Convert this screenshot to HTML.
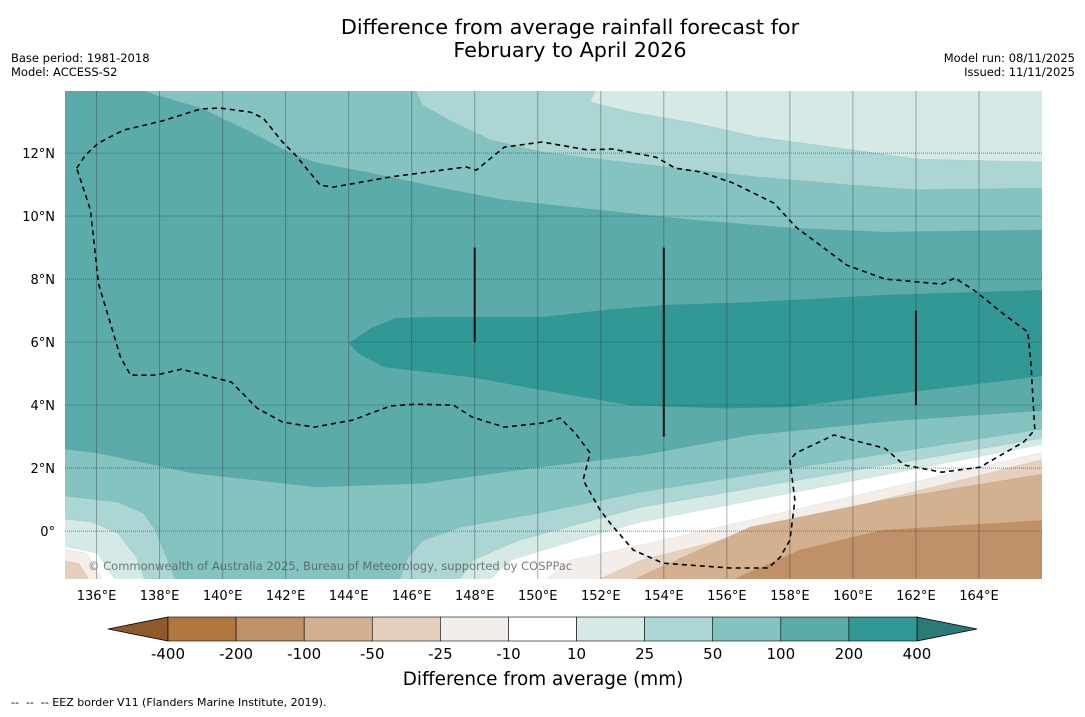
<!DOCTYPE html>
<html><head><meta charset="utf-8"><style>
html,body{margin:0;padding:0;background:#fff;}
body{width:1085px;height:713px;overflow:hidden;font-family:"DejaVu Sans","Liberation Sans",sans-serif;}
svg text{font-family:"DejaVu Sans","Liberation Sans",sans-serif;white-space:pre;}
</style></head><body>
<svg id="chart" width="1085" height="713" viewBox="0 0 1085 713" xmlns="http://www.w3.org/2000/svg">
<defs><clipPath id="mapclip"><rect x="65" y="91" width="977" height="488"/></clipPath></defs>
<text x="570" y="34" font-size="20.8" text-anchor="middle" fill="#000">Difference from average rainfall forecast for</text>
<text x="570" y="57" font-size="20.8" text-anchor="middle" fill="#000">February to April 2026</text>
<text x="11" y="62" font-size="11.5">Base period: 1981-2018</text>
<text x="11" y="76" font-size="11.5">Model: ACCESS-S2</text>
<text x="1075" y="62" font-size="11.5" text-anchor="end">Model run: 08/11/2025</text>
<text x="1075" y="76" font-size="11.5" text-anchor="end">Issued: 11/11/2025</text>
<g id="map" clip-path="url(#mapclip)"></g>
<g id="axes"></g>
<g id="cbar"></g>
<text x="543" y="685" font-size="18.4" text-anchor="middle">Difference from average (mm)</text>
<text x="11" y="706" font-size="11" xml:space="preserve">--  --  -- EEZ border V11 (Flanders Marine Institute, 2019).</text>
</svg>
<script>
// axis extents
const lonMin = 135, lonMax = 166, latMin = -1.52, latMax = 13.97;
const lonTicks = [136,138,140,142,144,146,148,150,152,154,156,158,160,162,164];
const latTicks = [0,2,4,6,8,10,12];
const latTickLabels = ["0°","2°N","4°N","6°N","8°N","10°N","12°N"];
// colour levels
const levelLabels = ["-400","-200","-100","-50","-25","-10","10","25","50","100","200","400"];
const binColors = ["#b07840","#c09068","#d3b08f","#e4d0bd","#f3eeea","#ffffff","#d5e9e7","#acd6d4","#84c3c0","#5aabaa","#319896"];
const underColor = "#8f5a2a", overColor = "#2a7a78";
// contour regions [lon,lat]
const top10 = [[151.92,14.2],[151.66,13.62],[152.96,13.30],[154.99,12.95],[156.99,12.51],[160.0,12.10],[162.03,11.81],[166.2,11.71],[166.2,14.2]];
const top25 = [[146.02,14.2],[146.34,13.52],[147.32,12.98],[148.52,12.41],[150.14,12.03],[152.96,11.68],[154.99,11.46],[156.99,11.24],[160.0,10.98],[162.03,10.83],[166.2,10.89],[166.2,14.2]];
const top50 = [[136.86,14.2],[137.87,13.84],[139.30,13.43],[140.88,12.67],[142.09,12.03],[142.91,11.71],[144.53,11.40],[146.94,10.89],[148.94,10.51],[151.95,10.19],[154.99,9.87],[158.0,9.62],[161.02,9.49],[166.2,9.56],[166.2,14.2]];
const tongue200 = [[166.2,7.65],[161.02,7.49],[156.99,7.27],[153.98,7.17],[152.17,7.02],[150.14,6.79],[146.94,6.79],[145.51,6.76],[144.72,6.44],[144.02,5.97],[144.31,5.65],[145.13,5.21],[147.92,4.89],[150.14,4.48],[152.96,4.0],[155.97,3.90],[158.0,3.94],[161.02,4.32],[166.2,4.95]];
const low50 = [[134.8,2.63],[136.03,2.48],[139.08,1.84],[142.98,1.40],[146.37,1.52],[150.01,2.03],[153.28,2.41],[156.74,3.05],[161.49,3.52],[166.2,3.84],[166.2,-1.8],[134.8,-1.8]];
const low25L = [[134.8,1.14],[136.67,0.92],[137.49,0.57],[137.87,0.03],[138.22,-0.83],[138.60,-1.8],[134.8,-1.8]];
const low25R = [[145.51,-1.8],[145.89,-0.83],[146.37,-0.29],[147.57,0.13],[150.01,0.57],[153.28,1.24],[166.2,3.27],[166.2,-1.8]];
const low10L = [[134.8,0.41],[135.81,0.29],[136.67,-0.06],[137.27,-0.83],[137.62,-1.8],[134.8,-1.8]];
const low10R = [[147.35,-1.8],[147.95,-0.92],[149.41,-0.29],[153.28,0.76],[166.2,2.98],[166.2,-1.8]];
const lowWL = [[134.8,-0.44],[136.03,-0.70],[136.76,-1.8],[134.8,-1.8]];
const lowWR = [[148.18,-1.8],[149.16,-0.92],[151.22,-0.29],[153.28,0.29],[166.2,2.79],[166.2,-1.8]];
const lowM10L = [[134.8,-0.54],[135.68,-0.70],[136.35,-1.8],[134.8,-1.8]];
const lowM10R = [[149.92,-1.8],[151.03,-0.92],[153.28,-0.44],[166.2,2.54],[166.2,-1.8]];
const lowM25L = [[134.8,-0.92],[135.43,-1.02],[135.94,-1.8],[134.8,-1.8]];
const lowM25R = [[151.35,-1.8],[153.28,-0.92],[166.2,2.32],[166.2,-1.8]];
const lowM50R = [[152.61,-1.8],[153.2,-1.46],[156.74,0.13],[160.95,0.98],[166.2,1.84],[166.2,-1.8]];
const lowM100R = [[155.63,-1.8],[158.32,-0.60],[160.95,0.03],[166.2,0.35],[166.2,-1.8]];
// EEZ boundary
const eez = [[135.37,11.52],[135.65,11.94],[136.06,12.32],[136.86,12.73],[138.09,13.02],[139.30,13.40],[139.90,13.43],[140.88,13.30],[141.29,13.11],[141.90,12.35],[142.31,11.94],[143.10,10.98],[143.51,10.92],[145.32,11.24],[147.73,11.56],[148.05,11.46],[148.94,12.19],[150.14,12.35],[151.57,12.10],[152.36,12.13],[153.76,11.87],[154.36,11.52],[155.18,11.40],[156.20,11.05],[157.50,10.41],[158.19,9.65],[159.81,8.44],[161.02,8.0],[162.82,7.84],[163.24,8.03],[163.84,7.65],[164.82,6.86],[165.55,6.32],[165.64,5.43],[165.77,3.21],[165.42,2.83],[164.03,2.03],[162.82,1.87],[161.62,2.10],[161.02,2.63],[160.0,2.89],[159.40,3.05],[158.19,2.48],[158.0,2.25],[158.16,0.98],[158.0,-0.29],[157.69,-0.83],[157.31,-1.17],[156.10,-1.17],[153.98,-1.02],[153.03,-0.60],[152.30,0.25],[151.98,0.67],[151.44,1.62],[151.66,2.48],[151.19,3.11],[150.71,3.59],[150.14,3.43],[148.94,3.30],[147.92,3.62],[147.32,4.0],[146.11,4.03],[145.32,3.97],[144.12,3.52],[142.91,3.30],[141.90,3.46],[141.10,3.90],[140.28,4.73],[138.69,5.14],[137.87,4.95],[137.08,4.95],[136.76,5.52],[136.06,7.87],[135.81,10.19],[135.37,11.52]];
const boundaryLines = [[[148,9],[148,6]],[[154,9],[154,3]],[[162,7],[162,4]]];

const x0 = 65, x1 = 1042, y0 = 91, y1 = 579;
function X(lon){ return x0 + (lon - lonMin) / (lonMax - lonMin) * (x1 - x0); }
function Y(lat){ return y1 - (lat - latMin) / (latMax - latMin) * (y1 - y0); }
const NS = "http://www.w3.org/2000/svg";
function mk(tag, attrs, parent){ const e = document.createElementNS(NS, tag); for (const k in attrs) e.setAttribute(k, attrs[k]); parent.appendChild(e); return e; }
function pts(arr){ return arr.map(p => X(p[0]).toFixed(1) + "," + Y(p[1]).toFixed(1)).join(" "); }

const map = document.getElementById("map");
const bg = mk("rect", {x:x0, y:y0, width:x1-x0, height:y1-y0, fill:binColors[9]}, map);


const regions = [
 [top50,8,"band-50-100-north"],[top25,7,"band-25-50-north"],[top10,6,"band-10-25-north"],
 [tongue200,10,"band-200-400"],
 [low50,8,"band-50-100-south"],[low25L,7,"band-25-50-southwest"],[low25R,7,"band-25-50-southeast"],
 [low10L,6,"band-10-25-southwest"],[low10R,6,"band-10-25-southeast"],
 [lowWL,5,"band-neutral-southwest"],[lowWR,5,"band-neutral-southeast"],
 [lowM10L,4,"band-minus10-25-southwest"],[lowM10R,4,"band-minus10-25-southeast"],
 [lowM25L,3,"band-minus25-50-southwest"],[lowM25R,3,"band-minus25-50-southeast"],
 [lowM50R,2,"band-minus50-100"],[lowM100R,1,"band-minus100-200"]
];
regions.forEach(r => {
  const p = mk("polygon", {points:pts(r[0]), fill:binColors[r[1]], stroke:"rgba(0,0,0,0.08)", "stroke-width":"0.6"}, map);
  
  
});
// gridlines
lonTicks.forEach(t => {
  const l = mk("line", {x1:X(t), x2:X(t), y1:y0, y2:y1, stroke:"rgba(40,60,60,0.4)", "stroke-width":"1"}, map);
  
  
});
latTicks.forEach(t => {
  const l = mk("line", {x1:x0, x2:x1, y1:Y(t), y2:Y(t), stroke:"rgba(60,60,60,0.6)", "stroke-width":"1", "stroke-dasharray":"1,1"}, map);
  
  
});
// boundary lines
boundaryLines.forEach(b => {
  const l = mk("line", {x1:X(b[0][0]), y1:Y(b[0][1]), x2:X(b[1][0]), y2:Y(b[1][1]), stroke:"#111", "stroke-width":"2"}, map);
  
  
});
const eezLine = mk("polyline", {points:pts(eez), fill:"none", stroke:"#000", "stroke-width":"1.6", "stroke-dasharray":"5,4"}, map);


const cr = mk("text", {x:88, y:570, "font-size":"11.5", fill:"rgba(80,80,80,0.75)"}, map);
cr.textContent = "© Commonwealth of Australia 2025, Bureau of Meteorology, supported by COSPPac";



const axes = document.getElementById("axes");
lonTicks.forEach(t => {
  const tx = mk("text", {x:X(t), y:600, "font-size":"13", "text-anchor":"middle"}, axes);
  tx.textContent = t + "°E";
  
  
});
latTicks.forEach((t,i) => {
  const tx = mk("text", {x:55, y:Y(t)+5, "font-size":"13", "text-anchor":"end"}, axes);
  tx.textContent = latTickLabels[i];
  
  
});

// colorbar
const cb = document.getElementById("cbar");
const cbx0 = 168, cbx1 = 917, cby = 617, cbh = 24;
const nb = binColors.length, bw = (cbx1 - cbx0) / nb;
const la = mk("polygon", {points:`${cbx0},${cby} ${108},${cby+cbh/2} ${cbx0},${cby+cbh}`, fill:underColor, stroke:"#000", "stroke-width":"0.8"}, cb);


const ra = mk("polygon", {points:`${cbx1},${cby} ${977},${cby+cbh/2} ${cbx1},${cby+cbh}`, fill:overColor, stroke:"#000", "stroke-width":"0.8"}, cb);


binColors.forEach((c,i) => {
  const r = mk("rect", {x:cbx0+i*bw, y:cby, width:bw, height:cbh, fill:c, stroke:"#000", "stroke-width":"0.6"}, cb);
  
  
});
levelLabels.forEach((s,i) => {
  const tx = mk("text", {x:cbx0+i*bw, y:659, "font-size":"15", "text-anchor":"middle"}, cb);
  tx.textContent = s;
  
  
});
</script>
</body></html>
